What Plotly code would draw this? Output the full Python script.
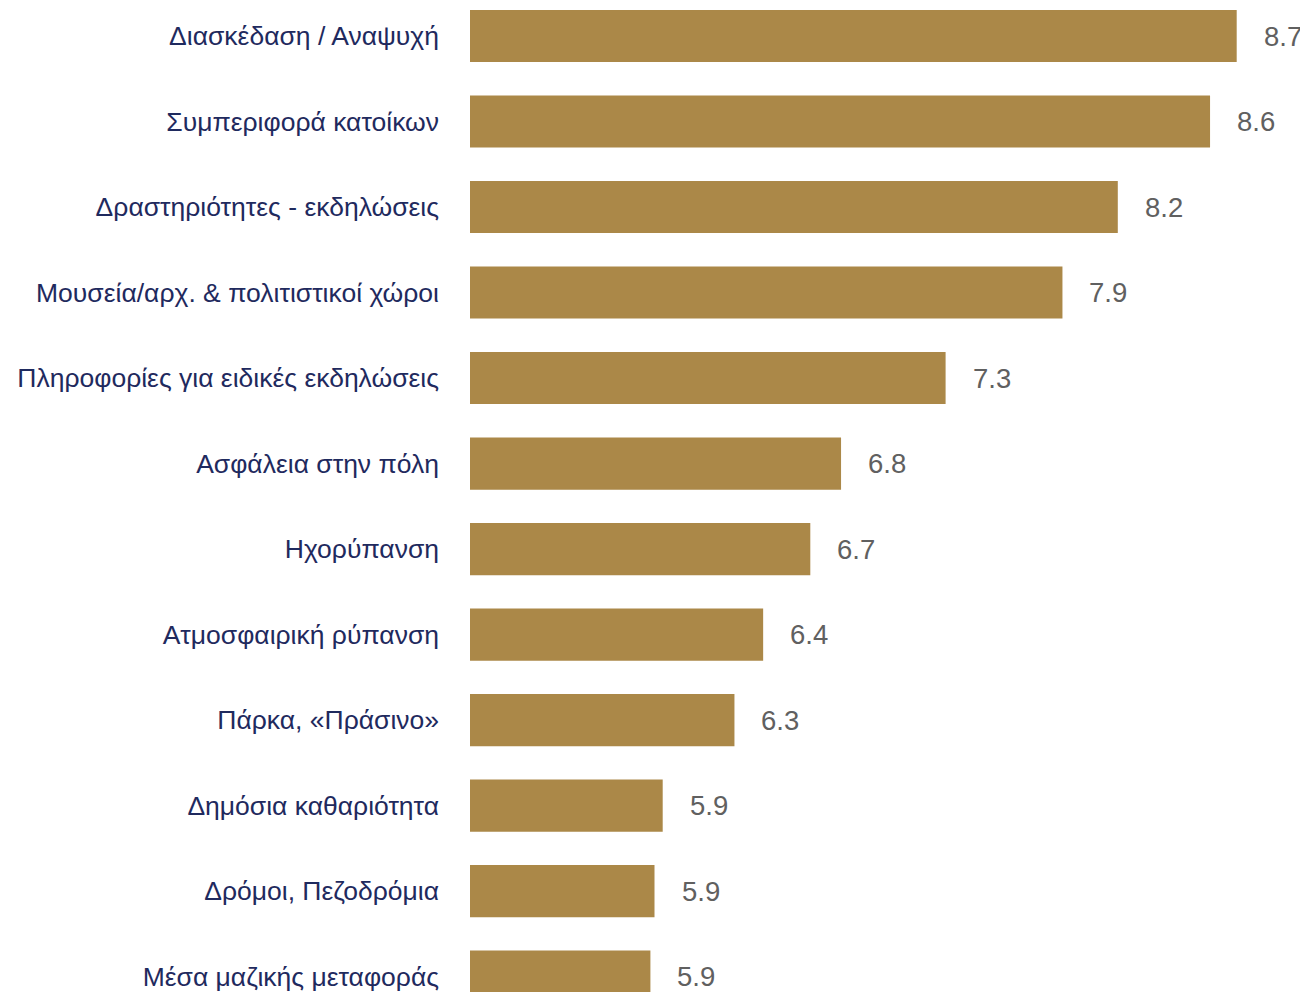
import plotly.graph_objects as go

categories = [
    "Διασκέδαση / Αναψυχή",
    "Συμπεριφορά κατοίκων",
    "Δραστηριότητες - εκδηλώσεις",
    "Μουσεία/αρχ. & πολιτιστικοί χώροι",
    "Πληροφορίες για ειδικές εκδηλώσεις",
    "Ασφάλεια στην πόλη",
    "Ηχορύπανση",
    "Ατμοσφαιρική ρύπανση",
    "Πάρκα, «Πράσινο»",
    "Δημόσια καθαριότητα",
    "Δρόμοι, Πεζοδρόμια",
    "Μέσα μαζικής μεταφοράς",
]
values = [8.74, 8.61, 8.16, 7.89, 7.32, 6.81, 6.66, 6.43, 6.29, 5.94, 5.90, 5.88]
value_labels = ["8.7", "8.6", "8.2", "7.9", "7.3", "6.8", "6.7", "6.4", "6.3", "5.9", "5.9", "5.9"]
axis_base = 5

BAR = "#AB8848"
NAVY = "#1F2A5E"
GRAY = "#606060"
FONT = "Liberation Sans, Arial, sans-serif"

fig = go.Figure(
    go.Bar(
        x=[v - axis_base for v in values],
        y=categories,
        base=axis_base,
        orientation="h",
        marker=dict(color=BAR, line=dict(width=0)),
        width=0.61,
    )
)

for c, v, t in zip(categories, values, value_labels):
    fig.add_annotation(
        x=v, y=c, text=t, showarrow=False, xanchor="left", xshift=25,
        font=dict(family=FONT, size=27.5, color=GRAY),
    )

fig.update_layout(
    width=1300,
    height=984,
    margin=dict(l=462, r=0, t=0, b=0),
    paper_bgcolor="white",
    plot_bgcolor="white",
    showlegend=False,
)
fig.update_xaxes(range=[axis_base, axis_base + 838 / 205], visible=False,
                 showgrid=False, zeroline=False)
fig.update_yaxes(
    type="category",
    categoryorder="array",
    categoryarray=categories,
    range=[11.18, -0.3275],
    showgrid=False,
    zeroline=False,
    showline=False,
    ticks="",
    ticklabelstandoff=30,
    tickfont=dict(family=FONT, size=26.5, color=NAVY),
)

fig.write_html("out.html")
